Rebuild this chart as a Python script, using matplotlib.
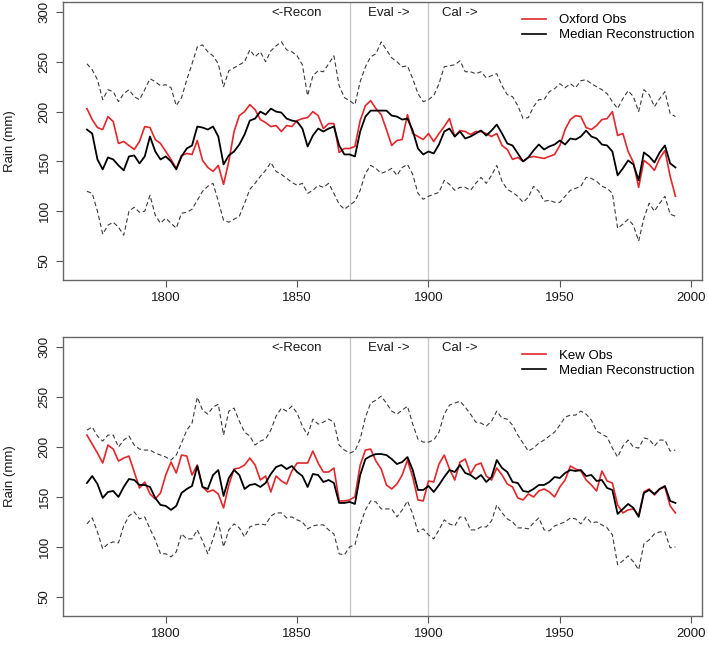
import numpy as np
import matplotlib
matplotlib.use('Agg')
import matplotlib.pyplot as plt
from matplotlib.lines import Line2D

plt.rcParams['font.family'] = ['Liberation Sans', 'DejaVu Sans']

years = np.arange(1770, 1996, 2)

oxford_obs = [
    203, 192, 184, 182, 195, 190, 168, 170, 166, 162,
    170, 185, 184, 172, 168, 160, 152, 143, 156, 158,
    157, 171, 151, 144, 140, 146, 127, 150, 180, 196,
    200, 207, 202, 192, 189, 185, 186, 180, 186, 185,
    191, 193, 194, 200, 196, 183, 188, 188, 159, 163,
    163, 165, 191, 206, 211, 203, 197, 182, 166, 171,
    172, 197, 178, 175, 172, 178, 170, 178, 185, 193,
    175, 181, 180, 177, 180, 180, 178, 175, 178, 166,
    162, 152, 154, 150, 154, 155, 154, 153, 155, 157,
    166, 182, 192, 196, 195, 184, 182, 186, 192, 193,
    200, 176, 178, 160, 149, 124, 151, 147, 141, 153,
    161, 135, 115]
oxford_median = [
    182, 178, 152, 142, 154, 152, 146, 141, 155, 156,
    148, 155, 175, 160, 152, 155, 150, 142, 155, 163,
    166, 185, 184, 182, 185, 175, 147, 156, 160, 167,
    177, 191, 193, 200, 197, 203, 200, 199, 193, 191,
    190, 183, 165, 176, 183, 180, 183, 185, 166, 157,
    157, 155, 180, 195, 201, 201, 201, 201, 196, 195,
    192, 193, 181, 163, 157, 160, 158, 167, 180, 183,
    175, 180, 173, 175, 178, 181, 176, 181, 187, 178,
    168, 166, 158, 150, 154, 161, 167, 162, 165, 167,
    171, 167, 173, 172, 175, 181, 175, 173, 167, 166,
    160, 136, 143, 151, 147, 131, 159, 155, 149, 159,
    166, 148, 144]
oxford_upper = [
    248, 242, 232, 212, 222, 220, 210, 218, 222, 215,
    212, 222, 233, 230, 226, 227, 224, 206, 214, 232,
    248, 265, 267, 260, 256, 248, 225, 241, 244, 247,
    250, 262, 255, 260, 250, 261, 266, 270, 262, 260,
    256, 247, 216, 236, 241, 240, 248, 256, 226, 214,
    211, 207, 230, 245, 255, 258, 270, 262, 254, 250,
    245, 246, 233, 218, 210, 212, 216, 228, 245, 246,
    247, 251, 240, 240, 238, 240, 234, 236, 238, 226,
    217, 215, 206, 193, 194, 205, 212, 212, 220, 223,
    228, 224, 228, 224, 231, 232, 228, 225, 222, 218,
    210, 203, 213, 221, 215, 200, 222, 217, 205, 213,
    220, 198, 195]
oxford_lower = [
    120, 118, 100, 77, 86, 89, 84, 76, 100, 104,
    99, 100, 116, 96, 88, 93, 88, 83, 98, 99,
    102, 111, 120, 125, 128, 110, 91, 89, 92, 95,
    108, 122, 128, 135, 141, 149, 140, 137, 133, 129,
    126, 128, 118, 121, 126, 124, 128, 118, 107, 102,
    106, 110, 121, 138, 146, 143, 138, 140, 143, 136,
    144, 147, 137, 118, 112, 115, 117, 119, 131, 127,
    121, 124, 124, 121, 128, 134, 128, 136, 146, 130,
    122, 119, 115, 109, 114, 125, 120, 110, 111, 109,
    109, 115, 121, 123, 125, 134, 133, 130, 125, 123,
    118, 83, 87, 92, 86, 70, 93, 108, 100, 108,
    115, 97, 95]

kew_obs = [
    212, 203, 194, 184, 202, 198, 186, 189, 191, 175,
    159, 165, 153, 148, 154, 172, 185, 174, 192, 191,
    172, 182, 160, 155, 157, 153, 139, 162, 178, 179,
    182, 189, 182, 167, 171, 155, 171, 166, 163, 176,
    184, 184, 184, 196, 184, 175, 175, 179, 146, 146,
    147, 150, 182, 197, 198, 186, 178, 162, 158, 163,
    172, 187, 170, 147, 146, 166, 165, 183, 192, 178,
    167, 185, 188, 173, 182, 184, 171, 167, 179, 172,
    163, 160, 149, 147, 153, 150, 156, 158, 155, 150,
    160, 167, 181, 178, 176, 167, 162, 156, 176, 166,
    164, 142, 134, 137, 138, 131, 155, 158, 152, 158,
    160, 141, 134]
kew_median = [
    164, 171, 163, 149, 155, 156, 150, 160, 168, 167,
    162, 162, 160, 149, 142, 141, 137, 141, 154, 158,
    161, 181, 160, 158, 172, 177, 151, 169, 177, 172,
    158, 162, 163, 160, 164, 173, 180, 182, 178, 181,
    175, 171, 160, 173, 172, 165, 167, 164, 144, 144,
    145, 143, 172, 188, 191, 193, 193, 192, 188, 183,
    185, 190, 177, 157, 157, 161, 155, 162, 170, 177,
    175, 182, 174, 172, 168, 172, 165, 170, 187, 179,
    175, 165, 164, 156, 155, 158, 162, 162, 165, 170,
    169, 174, 177, 176, 177, 171, 172, 166, 167, 159,
    157, 133, 138, 143, 139, 130, 154, 157, 153, 158,
    161, 146, 144]
kew_upper = [
    217, 220, 211, 206, 212, 212, 200, 207, 211, 202,
    198, 197, 197, 194, 192, 190, 187, 192, 204, 217,
    224, 250, 237, 233, 240, 243, 212, 236, 239, 226,
    215, 211, 202, 206, 208, 217, 231, 239, 236, 241,
    234, 221, 212, 228, 223, 225, 228, 225, 202, 197,
    194, 196, 208, 230, 244, 247, 251, 244, 236, 233,
    237, 241, 223, 208, 205, 205, 207, 215, 233, 242,
    244, 246, 240, 233, 225, 224, 221, 226, 236, 229,
    228, 222, 212, 204, 196, 199, 204, 207, 211, 215,
    222, 230, 232, 232, 236, 233, 227, 216, 213, 210,
    199, 190, 201, 207, 200, 199, 209, 208, 201, 207,
    207, 196, 197]
kew_lower = [
    123, 129, 115, 98, 103, 105, 104, 121, 131, 135,
    128, 130, 118, 107, 93, 93, 90, 95, 113, 108,
    108, 117, 106, 93, 108, 125, 100, 117, 123, 119,
    110, 120, 122, 123, 122, 131, 134, 134, 129, 130,
    127, 125, 118, 121, 122, 122, 117, 113, 93, 92,
    100, 102, 122, 137, 146, 145, 138, 138, 138, 130,
    137, 146, 133, 115, 118, 112, 108, 117, 127, 123,
    121, 130, 129, 117, 117, 120, 120, 126, 142, 134,
    128, 125, 119, 119, 118, 124, 129, 117, 116, 121,
    123, 125, 129, 128, 123, 130, 124, 125, 122, 119,
    112, 82, 86, 91, 85, 77, 103, 107, 113, 115,
    115, 99, 100]

period_lines = [1870, 1900]
period_labels = ['<-Recon', 'Eval ->', 'Cal ->']
yticks = [50, 100, 150, 200, 250, 300]
xticks = [1800, 1850, 1900, 1950, 2000]

RED = '#e3262b'
FS = 9.5

fig = plt.figure(figsize=(7.09, 6.47), dpi=100)
W, H = 709.0, 647.0
ax1 = fig.add_axes([63.3 / W, 1 - 280 / H, (701.7 - 63.3) / W, 278 / H])
ax2 = fig.add_axes([63.3 / W, 1 - 615.7 / H, (701.7 - 63.3) / W, 278.4 / H])


def draw(ax, obs, med, up, lo, obs_label):
    for xv in period_lines:
        ax.axvline(xv, color='#c8c8c8', lw=1.0, zorder=1)
    ax.plot(years, up, color='#3a3a3a', lw=0.8, ls=(0, (4, 2.5)), zorder=2)
    ax.plot(years, lo, color='#3a3a3a', lw=0.8, ls=(0, (4, 2.5)), zorder=2)
    ax.plot(years, obs, color=RED, lw=1.2, zorder=3)
    ax.plot(years, med, color='black', lw=1.3, zorder=4)
    ax.set_xlim(1761, 2004)
    ax.set_ylim(31, 310)
    ax.set_xticks(xticks)
    ax.set_yticks(yticks)
    ax.tick_params(axis='both', direction='out', length=5, width=0.8,
                   color='#555555', labelsize=FS, labelcolor='#1a1a1a')
    ax.tick_params(axis='x', pad=4)
    ax.tick_params(axis='y', pad=4, labelrotation=90)
    for lab in ax.get_yticklabels():
        lab.set_va('center')
    for sp in ax.spines.values():
        sp.set_color('#666666')
        sp.set_linewidth(1.0)
    ax.text(1859.3, 299, period_labels[0], ha='right', va='center',
            fontsize=FS, color='#1a1a1a')
    ax.text(1876.8, 299, period_labels[1], ha='left', va='center',
            fontsize=FS, color='#1a1a1a')
    ax.text(1905.0, 299, period_labels[2], ha='left', va='center',
            fontsize=FS, color='#1a1a1a')
    handles = [Line2D([], [], color=RED, lw=1.2),
               Line2D([], [], color='black', lw=1.2)]
    ax.legend(handles, [obs_label, 'Median Reconstruction'],
              loc='upper right', bbox_to_anchor=(1.0, 1.0 - 5.0 / 278),
              frameon=False, fontsize=FS, handlelength=1.8,
              handletextpad=1.0, labelspacing=0.2, borderpad=0.55,
              borderaxespad=0.0)


draw(ax1, oxford_obs, oxford_median, oxford_upper, oxford_lower, 'Oxford Obs')
draw(ax2, kew_obs, kew_median, kew_upper, kew_lower, 'Kew Obs')

fig.text(10 / W, 1 - 141 / H, 'Rain (mm)', rotation=90, ha='center',
         va='center', fontsize=FS, color='#1a1a1a')
fig.text(10 / W, 1 - 476.5 / H, 'Rain (mm)', rotation=90, ha='center',
         va='center', fontsize=FS, color='#1a1a1a')

fig.savefig('out.png', dpi=100)
